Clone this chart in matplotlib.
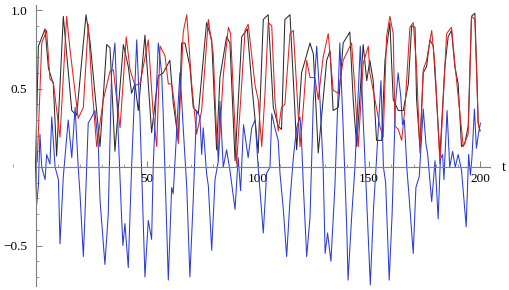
import matplotlib.pyplot as plt
from matplotlib.ticker import MultipleLocator, FixedLocator

# black curve
t_black = [0, 1.3, 4.3, 5.8, 8.0, 9.5, 12.5, 16.3, 18.5, 22.7, 24.5, 29.0, 32.0, 33.5, 35.7,
           39.5, 41.7, 43.2, 44.7, 46.2, 49.2, 52.2, 55.2, 57.4, 60.4, 61.9, 64.2, 65.7, 67.2,
           69.4, 70.9, 73.2, 76.9, 79.2, 81.4, 82.9, 85.9, 87.4, 89.7, 92.7, 95.2, 97.2, 100.1,
           102.4, 104.6, 106.9, 109.1, 110.6, 112.1, 114.4, 116.6, 117.4, 119.6, 123.4, 124.9,
           127.1, 130.9, 132.4, 133.8, 136.1, 138.3, 141.3, 142.8, 144.4, 147.3, 148.9, 150.3,
           151.8, 153.3, 155.6, 157.1, 159.3, 160.8, 163.1, 165.3, 167.6, 169.1, 170.6, 171.3,
           172.8, 174.3, 175.8, 177.3, 178.8, 180.3, 181.8, 184.0, 185.5, 187.0, 188.5, 190.0,
           191.5, 193.0, 194.5, 196.0, 197.5, 198.3, 199.0, 199.8]
y_black = [0, 0.77, 0.88, 0.63, 0.53, 0.07, 0.96, 0.36, 0.33, 0.97, 0.80, 0.13, 0.78, 0.76, 0.10,
           0.78, 0.64, 0.47, 0.53, 0.36, 0.84, 0.22, 0.58, 0.60, 0.68, 0.41, 0.17, 0.79, 0.79,
           0.64, 0.38, 0.34, 0.92, 0.81, 0.11, 0.57, 0.83, 0.79, 0.04, 0.83, 0.88, 0.53, 0.09,
           0.94, 0.97, 0.38, 0.26, 0.24, 0.94, 0.97, 0.36, 0.11, 0.60, 0.79, 0.72,
           0.09, 0.68, 0.74, 0.36, 0.38, 0.79, 0.86, 0.43, 0.13, 0.78, 0.55, 0.68,
           0.55, 0.17, 0.17, 0.68, 0.92, 0.43, 0.36, 0.36, 0.53, 0.90, 0.89, 0.43,
           0.13, 0.60, 0.64, 0.81, 0.77, 0.43, 0.07, 0.64, 0.83, 0.87, 0.64, 0.53,
           0.13, 0.15, 0.26, 0.96, 0.98, 0.64, 0.28, 0.23]

# red curve
t_red = [0, 0.8, 2.8, 5.0, 6.5, 8.0, 11.0, 14.0, 15.5, 19.2, 21.5, 23.7, 25.3, 27.5, 30.5, 33.5,
         35.0, 36.5, 38.0, 40.8, 42.5, 44.7, 47.0, 50.7, 52.9, 54.5, 56.0, 58.2, 59.7, 61.2, 62.7,
         64.2, 66.4, 68.0, 70.2, 72.4, 74.7, 77.7, 79.9, 81.4, 82.2, 84.4, 86.7, 87.7, 90.4, 94.2,
         95.6, 97.2, 98.7, 100.1, 101.7, 103.1, 104.6, 106.2, 107.6, 109.1, 110.6, 112.1, 114.4,
         115.9, 117.4, 118.9, 120.4, 121.9, 123.4, 125.6, 127.1, 129.3, 131.6, 133.8, 136.1,
         138.3, 142.1, 143.6, 145.1, 147.3, 149.6, 150.3, 152.6, 154.8, 156.3, 157.8, 159.3,
         160.8, 161.6, 163.1, 164.6, 166.1, 168.3, 169.8, 171.3, 172.8, 174.3, 175.8, 178.1,
         179.6, 181.8, 184.8, 187.0, 188.5, 190.0, 192.3, 194.5, 196.0, 197.5, 199.0, 199.8]
y_red = [0, 0.04, 0.79, 0.87, 0.56, 0.54, 0.19, 0.96, 0.75, 0.31, 0.38, 0.91, 0.53, 0.13, 0.43, 0.61,
         0.62, 0.43, 0.25, 0.83, 0.62, 0.52, 0.53, 0.81, 0.34, 0.13, 0.77, 0.71, 0.53, 0.53, 0.38,
         0.15, 0.86, 0.97, 0.53, 0.21, 0.36, 0.94, 0.72, 0.21, 0.04, 0.58, 0.89, 0.85, 0.02, 0.87,
         0.91, 0.71, 0.52, 0.43, 0.13, 0.45, 0.92, 0.90, 0.43, 0.23, 0.38, 0.40, 0.85,
         0.87, 0.51, 0.13, 0.38, 0.68, 0.57, 0.57, 0.43, 0.70, 0.85, 0.49, 0.47,
         0.68, 0.79, 0.49, 0.13, 0.66, 0.77, 0.60, 0.43, 0.26, 0.19, 0.83, 0.96,
         0.85, 0.26, 0.24, 0.17, 0.38, 0.89, 0.92, 0.64, 0.09, 0.62, 0.68, 0.87,
         0.64, 0.02, 0.85, 0.89, 0.66, 0.45, 0.13, 0.21, 0.96, 0.94, 0.28, 0.23]

# blue curve
t_blue = [0, 0.5, 1.3, 2.0, 2.8, 4.3, 5.0, 6.5, 7.3, 8.8, 10.3, 11.0, 12.5, 14.7, 16.3, 17.8, 19.2,
          20.0, 21.5, 22.2, 23.7, 25.3, 26.7, 28.2, 29.0, 31.2, 32.7, 34.2, 35.7, 37.2, 38.7, 39.3,
          40.2, 41.7, 43.2, 45.5, 47.0, 49.2, 50.7, 52.2, 52.9, 55.2, 56.7, 57.4, 59.7, 61.2, 61.9,
          64.9, 65.7, 66.4, 68.0, 69.4, 70.9, 72.4, 73.9, 74.7, 75.4, 76.9, 77.7, 79.2, 80.7, 82.2,
          82.9, 84.4, 85.9, 87.4, 89.7, 91.1, 92.2, 93.5, 95.6, 97.2, 98.7, 100.1, 102.4, 103.9,
          105.4, 106.2, 107.6, 109.1, 109.9, 111.4, 112.9, 114.4, 115.9, 117.4, 118.9, 119.6,
          120.4, 121.9, 123.4, 124.9, 126.4, 127.9, 129.3, 130.2, 131.3, 132.8, 134.6, 136.8,
          138.3, 139.9, 140.5, 142.1, 143.6, 146.0, 147.3, 148.6, 150.5, 152.0, 153.3, 155.3,
          156.4, 157.4, 159.0, 160.3, 161.8, 163.0, 164.2, 165.0, 165.8, 167.0, 168.0, 169.8,
          171.0, 172.5, 174.3, 175.5, 176.3, 178.1, 179.6, 181.0, 182.0, 183.0, 183.6, 185.0,
          186.2, 187.5, 188.7, 190.0, 191.5, 193.6, 194.7, 195.5, 196.2, 197.3, 198.2, 199.2, 200.0]
y_blue = [0, -0.24, -0.12, 0.21, 0.0, -0.08, 0.08, 0.02, 0.32, 0.0, -0.08, -0.49, -0.06, 0.30, 0.06,
          0.38, 0.0, -0.17, -0.57, -0.32, 0.28, 0.32, 0.36, 0.15, -0.21, -0.62, -0.30, 0.60, 0.79,
          0.21, -0.32, -0.50, -0.36, -0.64, 0.0, 0.81, 0.30, -0.70, -0.34, -0.46, 0.0, 0.79, 0.60,
          0.34, -0.72, -0.13, -0.17, 0.60, 0.43, 0.25, -0.13, -0.70, -0.21, 0.36, 0.32, 0.08, 0.25,
          -0.04, -0.12, -0.53, -0.08, 0.04, 0.42, 0.0, 0.11, -0.02, -0.27, 0.06, -0.15, 0.27, 0.06,
          0.25, 0.30, 0.0, -0.42, -0.04, 0.0, 0.34, 0.25, 0.17, -0.04, -0.27, -0.57, -0.21, 0.06,
          0.25, 0.32, 0.17, -0.12, -0.57, -0.32, 0.42, 0.77, 0.42, 0.0, -0.55, -0.42, -0.60, -0.12,
          0.79, 0.25, -0.38, -0.72, -0.32, 0.0, 0.77, 0.30, -0.12, -0.75, -0.25, 0.05, 0.55,
          0.0, -0.10, -0.72, -0.30, 0.40, 0.60, 0.45, 0.27, 0.30, -0.02, -0.20, -0.55,
          -0.13, -0.06, 0.37, 0.15, 0.08, -0.22, 0.04, -0.33, 0.05, 0.08, -0.08, 0.36,
          0.0, 0.10, 0.0, 0.08, -0.02, -0.38, 0.08, -0.05, 0.06, 0.37, 0.12, 0.22, 0.28]

x_major = [50, 100, 150, 200]
y_major = [-0.5, 0.5, 1.0]
y_labels = ['\u22120.5', '0.5', '1.0']

plt.rcParams['font.family'] = ['Liberation Serif', 'DejaVu Serif']

fig = plt.figure(figsize=(5.1, 2.9), dpi=100)
ax = fig.add_axes([0, 0, 1, 1])

ax.plot(t_black, y_black, color='#2b2b2b', lw=0.75, solid_joinstyle='round')
ax.plot(t_red, y_red, color='#e32020', lw=0.75, solid_joinstyle='round')
ax.plot(t_blue, y_blue, color='#2a3cd8', lw=0.75, solid_joinstyle='round')

ax.set_xlim(-15.96, 213.3)
ax.set_ylim(-0.783, 1.064)

axis_col = '#7f7f7f'
for side in ['top', 'right']:
    ax.spines[side].set_visible(False)
ax.spines['left'].set_position(('data', 0))
ax.spines['bottom'].set_position(('data', 0))
ax.spines['left'].set_bounds(-0.76, 1.03)
ax.spines['bottom'].set_bounds(0, 204.5)
for side in ['left', 'bottom']:
    ax.spines[side].set_color(axis_col)
    ax.spines[side].set_linewidth(0.8)

ax.xaxis.set_major_locator(FixedLocator(x_major))
ax.xaxis.set_minor_locator(MultipleLocator(10))
ax.yaxis.set_major_locator(FixedLocator(y_major))
ax.set_yticklabels(y_labels)
ax.yaxis.set_minor_locator(MultipleLocator(0.1))
ax.tick_params(which='major', direction='in', length=4, width=0.7, color=axis_col,
               labelsize=9.5, pad=4)
ax.tick_params(which='minor', direction='in', length=2, width=0.5, color=axis_col)
ax.tick_params(axis='y', which='both', pad=6)

# axis label "t" just right of the end of the time axis
ax.text(210.5, 0, 't', fontsize=10, ha='center', va='center')

fig.savefig('out.png', dpi=100)
